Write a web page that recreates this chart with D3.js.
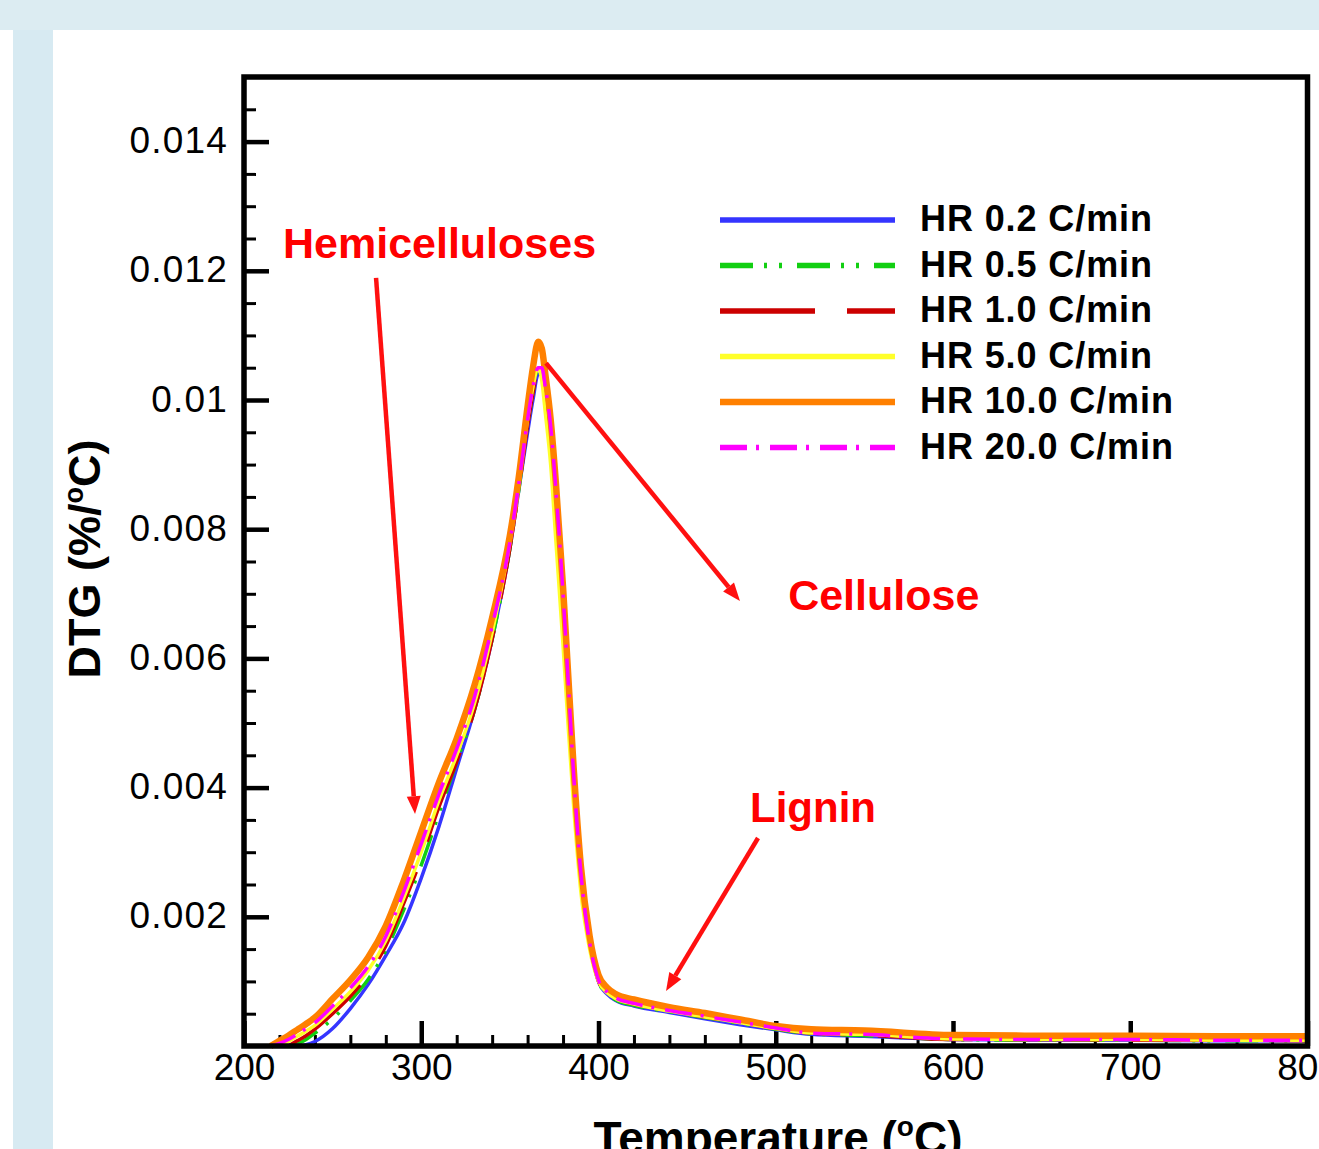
<!DOCTYPE html>
<html>
<head>
<meta charset="utf-8">
<script src="https://cdn.jsdelivr.net/npm/d3@7"></script>
<style>
body { margin: 0; background: #fff; }
svg { display: block; }
</style>
</head>
<body>
<svg id="chart" width="1319" height="1149"></svg>
<script>
// temperature grid (°C), shared by every heating rate
const temps = [215, 220, 225, 230, 235, 240, 250, 260, 270, 280,
    290, 300, 310, 320, 330, 340, 350, 355, 360, 363,
    366, 368, 370, 373, 376, 380, 383, 386, 390, 395,
    400, 405, 410, 420, 440, 460, 480, 500, 520, 550,
    600, 650, 700, 750, 800];

// DTG (%/°C)
const hr02 = [0, 0, 0, 0, 0.00002, 0.00007, 0.00027, 0.00058, 0.00095, 0.0014,
    0.0019, 0.0026, 0.0034, 0.0043, 0.0052, 0.0063, 0.0077, 0.0086, 0.0095, 0.01,
    0.0104, 0.0104, 0.0101, 0.0095, 0.0085, 0.0069, 0.0055, 0.0041, 0.0026, 0.0016,
    0.001, 0.0008, 0.0007, 0.00062, 0.00052, 0.00042, 0.00033, 0.00025, 0.00018, 0.00015,
    0.0001, 0.00009, 0.00009, 0.00008, 0.00008];
const hr05 = [0, 0, 0, 0.00003, 0.0001, 0.0002, 0.00042, 0.0007, 0.00103, 0.00148,
    0.0021, 0.0028, 0.0036, 0.0044, 0.0052, 0.0063, 0.0077, 0.0086, 0.0096, 0.0101,
    0.0105, 0.0104, 0.0101, 0.0095, 0.0085, 0.0069, 0.0055, 0.0041, 0.0026, 0.0016,
    0.001, 0.0008, 0.00071, 0.00063, 0.00053, 0.00044, 0.00035, 0.00026, 0.00019, 0.00016,
    0.0001, 0.00009, 0.00009, 0.00008, 0.00008];
const hr10 = [0, 0, 0, 0.00008, 0.00016, 0.00026, 0.0005, 0.00077, 0.0011, 0.00155,
    0.0022, 0.0029, 0.0037, 0.0044, 0.0052, 0.0063, 0.0077, 0.0086, 0.0096, 0.0101,
    0.0105, 0.0104, 0.0101, 0.0095, 0.0085, 0.0069, 0.0055, 0.0041, 0.0026, 0.0016,
    0.001, 0.00082, 0.00073, 0.00065, 0.00055, 0.00045, 0.00036, 0.00027, 0.0002, 0.00017,
    0.0001, 0.0001, 0.00009, 0.00009, 0.00008];
const hr50 = [0, 0, 0.00007, 0.00015, 0.00023, 0.00032, 0.00057, 0.00084, 0.00117, 0.00163,
    0.00228, 0.003, 0.0038, 0.0045, 0.0053, 0.0064, 0.0078, 0.0087, 0.0097, 0.0102,
    0.0105, 0.0103, 0.0098, 0.009, 0.0078, 0.0062, 0.0049, 0.0037, 0.0024, 0.0015,
    0.001, 0.00082, 0.00073, 0.00065, 0.00054, 0.00045, 0.00036, 0.00027, 0.0002, 0.00018,
    0.00011, 0.0001, 0.0001, 0.00009, 0.00009];
const hr100 = [0, 0.00008, 0.00016, 0.00025, 0.00034, 0.00044, 0.00073, 0.00102, 0.00137, 0.00186,
    0.00255, 0.00332, 0.00408, 0.00476, 0.00558, 0.00663, 0.0079, 0.0088, 0.0099, 0.0105,
    0.0109, 0.0108, 0.0104, 0.0097, 0.0087, 0.0071, 0.0057, 0.0043, 0.0028, 0.0017,
    0.0011, 0.0009, 0.0008, 0.00072, 0.0006, 0.00051, 0.00041, 0.00031, 0.00026, 0.00024,
    0.00017, 0.00016, 0.00016, 0.00015, 0.00015];
const hr200 = [0, 0.00004, 0.0001, 0.00018, 0.00027, 0.00036, 0.00062, 0.0009, 0.00123, 0.0017,
    0.00238, 0.00313, 0.0039, 0.0046, 0.0054, 0.0065, 0.0078, 0.0087, 0.0097, 0.0102,
    0.0105, 0.0105, 0.0102, 0.0096, 0.0086, 0.007, 0.0056, 0.0042, 0.0027, 0.0016,
    0.00102, 0.00083, 0.00074, 0.00066, 0.00055, 0.00046, 0.00037, 0.00028, 0.0002, 0.00018,
    0.00011, 0.0001, 0.0001, 0.00009, 0.00009];

const seriesNames = ["HR 0.2 C/min", "HR 0.5 C/min", "HR 1.0 C/min",
    "HR 5.0 C/min", "HR 10.0 C/min", "HR 20.0 C/min"];
const seriesValues = [hr02, hr05, hr10, hr50, hr100, hr200];

const xTicks = [200, 300, 400, 500, 600, 700, 800];
const yTicks = [0.002, 0.004, 0.006, 0.008, 0.01, 0.012, 0.014];
const yTickLabels = ["0.002", "0.004", "0.006", "0.008", "0.01", "0.012", "0.014"];

// line styles, same order as the series
const colors = ["#3535ff", "#12cf12", "#cc0000", "#ffff2a", "#ff8000", "#ff00ff"];
const dashes = [null, "33,11,3,12,3,15", "95,32", null, null, "27,9,3,11"];
const widths = [3.5, 3.5, 3.5, 3.5, 6.5, 3.5];

const FONT = "'Liberation Sans', Arial, sans-serif";

let svg = d3.select("#chart");

// page background bands
svg.append("rect").attr("x", 0).attr("y", 0).attr("width", 1319).attr("height", 30)
    .attr("fill", "#dcecf2");
svg.append("rect").attr("x", 13).attr("y", 30).attr("width", 40).attr("height", 1119)
    .attr("fill", "#d7eaf2");

let x = d3.scaleLinear().domain([200, 800]).range([244, 1307.5]);
let y = d3.scaleLinear().domain([0, 0.015]).range([1046, 77]);

// minor ticks
let xMinorVals = d3.range(200, 801, 20).filter(d => d % 100 != 0);
let yMinorVals = d3.range(1, 30).map(i => i * 0.0005).filter(d => Math.abs(d / 0.002 - Math.round(d / 0.002)) > 1e-6);

let xMinorAxis = d3.axisBottom(x).tickValues(xMinorVals).tickSize(-11).tickFormat("");
svg.append("g").attr("transform", `translate(0,${y(0)})`)
    .call(xMinorAxis)
    .call(g => g.select(".domain").remove())
    .selectAll("line").attr("stroke-width", 3);

let yMinorAxis = d3.axisLeft(y).tickValues(yMinorVals).tickSize(-12).tickFormat("");
svg.append("g").attr("transform", `translate(${x(200)},0)`)
    .call(yMinorAxis)
    .call(g => g.select(".domain").remove())
    .selectAll("line").attr("stroke-width", 3);

// major ticks + labels
let xAxis = d3.axisBottom(x).tickValues(xTicks).tickSize(-25).tickFormat(d3.format("d"));
let xAxisGroup = svg.append("g").attr("transform", `translate(0,${y(0)})`)
    .call(xAxis)
    .call(g => g.select(".domain").remove())
    .attr("font-family", FONT).attr("font-size", 37);
xAxisGroup.selectAll("line").attr("stroke-width", 4.5);
xAxisGroup.selectAll("text").attr("y", 34).attr("dy", 0).attr("fill", "#000");

let yAxis = d3.axisLeft(y).tickValues(yTicks).tickSize(-25).tickPadding(16)
    .tickFormat((d, i) => yTickLabels[i]);
let yAxisGroup = svg.append("g").attr("transform", `translate(${x(200)},0)`)
    .call(yAxis)
    .call(g => g.select(".domain").remove())
    .attr("font-family", FONT).attr("font-size", 37);
yAxisGroup.selectAll("line").attr("stroke-width", 4.5);
yAxisGroup.selectAll("text").attr("dy", "0.3em").attr("letter-spacing", 1.2).attr("fill", "#000");

// curves
let line = d3.line()
    .x(d => x(d.t))
    .y(d => y(d.v))
    .curve(d3.curveMonotoneX);

seriesValues.forEach(function(vals, i){
    let pts = temps.map((t, j) => ({t: t, v: vals[j]}));
    // drop the flat zero run before each curve starts
    let first = pts.findIndex(d => d.v > 0);
    pts = pts.slice(Math.max(first - 1, 0));
    svg.append("path")
        .datum(pts)
        .attr("d", line)
        .attr("fill", "none")
        .attr("stroke", colors[i])
        .attr("stroke-width", widths[i])
        .attr("stroke-dasharray", dashes[i])
        .attr("stroke-linejoin", "round");
});

// plot frame
svg.append("rect")
    .attr("x", x(200)).attr("y", y(0.015))
    .attr("width", x(800) - x(200)).attr("height", y(0) - y(0.015))
    .attr("fill", "none").attr("stroke", "#000").attr("stroke-width", 5.5);

// legend
let legend = svg.append("g");
seriesNames.forEach(function(name, i){
    let ly = 220 + i * 45.5;
    legend.append("line")
        .attr("x1", 720).attr("x2", 895)
        .attr("y1", ly).attr("y2", ly)
        .attr("stroke", colors[i])
        .attr("stroke-width", i == 4 ? 6.5 : 5.5)
        .attr("stroke-dasharray", dashes[i]);
    legend.append("text")
        .attr("x", 920).attr("y", ly + 11)
        .attr("font-family", FONT).attr("font-size", 36).attr("font-weight", "bold")
        .attr("letter-spacing", 0.9)
        .attr("fill", "#000")
        .text(name);
});

// axis titles
let yTitle = svg.append("text")
    .attr("transform", "translate(100,559) rotate(-90)")
    .attr("text-anchor", "middle")
    .attr("font-family", FONT).attr("font-size", 45).attr("font-weight", "bold");
yTitle.append("tspan").text("DTG (%/");
yTitle.append("tspan").attr("font-size", 27).attr("dy", -17).text("o");
yTitle.append("tspan").attr("dy", 17).text("C)");

let xTitle = svg.append("text")
    .attr("x", 778).attr("y", 1154)
    .attr("text-anchor", "middle")
    .attr("font-family", FONT).attr("font-size", 46).attr("font-weight", "bold");
xTitle.append("tspan").text("Temperature (");
xTitle.append("tspan").attr("font-size", 28).attr("dy", -18).text("o");
xTitle.append("tspan").attr("dy", 18).text("C)");

// red annotations (positions in data units)
let notes = [
    {text: "Hemicelluloses", t: 222, v: 0.0122, size: 43},
    {text: "Cellulose", t: 507, v: 0.00675, size: 43},
    {text: "Lignin", t: 485.5, v: 0.00347, size: 42}
];
notes.forEach(function(n){
    svg.append("text")
        .attr("x", x(n.t)).attr("y", y(n.v))
        .attr("font-family", FONT).attr("font-size", n.size).attr("font-weight", "bold")
        .attr("fill", "#ff0000")
        .text(n.text);
});

let arrows = [
    {from: [274.5, 0.01189], to: [296.5, 0.00359]},
    {from: [370.4, 0.01057], to: [479.8, 0.00689]},
    {from: [490, 0.00322], to: [438.1, 0.00085]}
];
arrows.forEach(function(a){
    let x1 = x(a.from[0]), y1 = y(a.from[1]);
    let x2 = x(a.to[0]), y2 = y(a.to[1]);
    let ang = Math.atan2(y2 - y1, x2 - x1);
    let len = 18, half = 7;
    let bx = x2 - len * Math.cos(ang), by = y2 - len * Math.sin(ang);
    svg.append("line")
        .attr("x1", x1).attr("y1", y1).attr("x2", bx).attr("y2", by)
        .attr("stroke", "#ff1010").attr("stroke-width", 4.5);
    svg.append("polygon")
        .attr("points", [[x2, y2],
            [bx + half * Math.sin(ang), by - half * Math.cos(ang)],
            [bx - half * Math.sin(ang), by + half * Math.cos(ang)]].join(" "))
        .attr("fill", "#ff1010");
});
</script>
</body>
</html>
